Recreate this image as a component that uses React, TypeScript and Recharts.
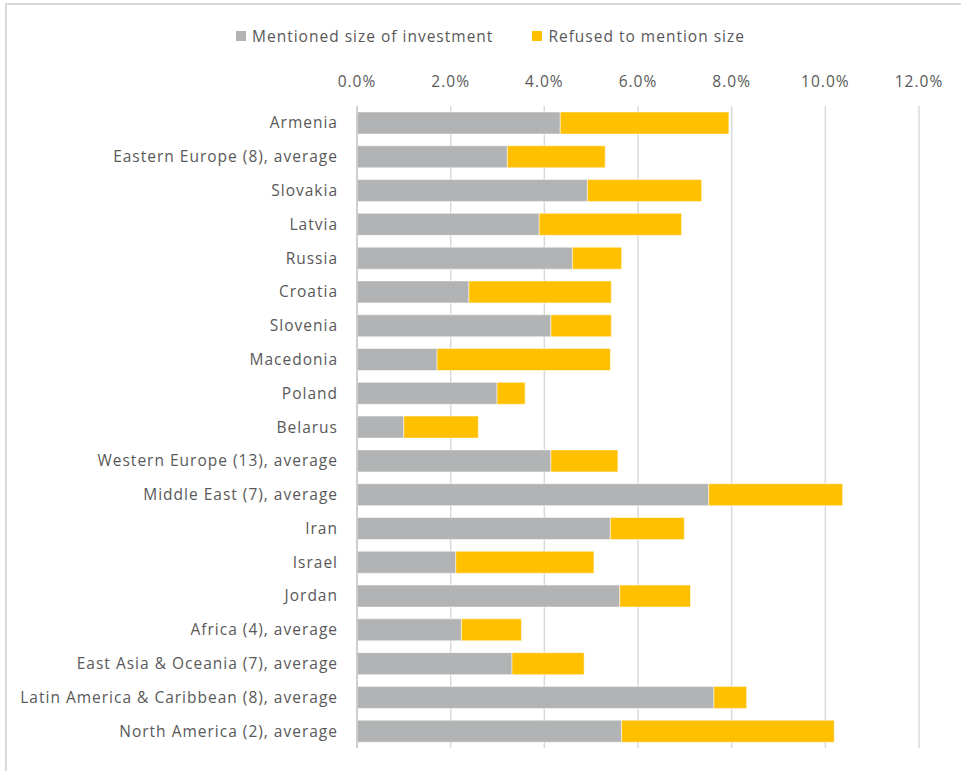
import { Bar, BarChart, CartesianGrid, Legend, XAxis, YAxis } from "recharts";

const categories = [
  "Armenia",
  "Eastern Europe (8), average",
  "Slovakia",
  "Latvia",
  "Russia",
  "Croatia",
  "Slovenia",
  "Macedonia",
  "Poland",
  "Belarus",
  "Western Europe (13), average",
  "Middle East (7), average",
  "Iran",
  "Israel",
  "Jordan",
  "Africa (4), average",
  "East Asia & Oceania (7), average",
  "Latin America & Caribbean (8), average",
  "North America (2), average",
];

// percent values
const mentioned = [4.34, 3.21, 4.92, 3.89, 4.6, 2.39, 4.14, 1.71, 2.99, 1.0, 4.14, 7.51, 5.41, 2.11, 5.61, 2.23, 3.31, 7.62, 5.65];
const refused = [3.6, 2.09, 2.44, 3.04, 1.05, 3.04, 1.29, 3.7, 0.6, 1.59, 1.43, 2.86, 1.58, 2.95, 1.51, 1.28, 1.54, 0.7, 4.54];

const xTicks = [0, 2, 4, 6, 8, 10, 12];

const seriesNames = ["Mentioned size of investment", "Refused to mention size"];
const seriesColors = ["#B2B3B4", "#FFC000"];

const data = categories.map((name, i) => ({
  name,
  mentioned: mentioned[i],
  refused: refused[i],
}));

const FONT = "'Open Sans', sans-serif";
const TEXT = "#595959";
const GRID = "#d9d9d9";

const renderLegend = () => (
  <div
    style={{
      display: "flex",
      justifyContent: "center",
      gap: 39,
      paddingLeft: 62,
      paddingTop: 2,
      height: 30,
      boxSizing: "border-box",
      alignItems: "center",
      fontFamily: FONT,
      fontSize: 15.5,
      letterSpacing: 1,
      color: TEXT,
    }}
  >
    {seriesNames.map((n, i) => (
      <div key={n} style={{ display: "flex", alignItems: "center" }}>
        <span
          style={{
            width: 10,
            height: 10,
            background: seriesColors[i],
            display: "inline-block",
            marginRight: 6,
          }}
        />
        <span>{n}</span>
      </div>
    ))}
  </div>
);

const tickStyle = { fill: TEXT, fontSize: 15.5, fontFamily: FONT, letterSpacing: 1 };

export default function App() {
  return (
    <div style={{ position: "absolute", left: 0, top: 0, width: 961, height: 771, background: "#fff" }}>
      <div
        style={{
          position: "absolute",
          left: 5,
          top: 3,
          width: 970,
          height: 780,
          borderTop: `2px solid ${GRID}`,
          borderLeft: `2px solid ${GRID}`,
        }}
      />
      <BarChart
        width={961}
        height={771}
        data={data}
        layout="vertical"
        margin={{ top: 20, right: 42, bottom: 23, left: 0 }}
        barSize={22}
        style={{ position: "absolute", left: 0, top: 0 }}
      >
        <Legend verticalAlign="top" content={renderLegend} wrapperStyle={{ height: 30 }} />
        <CartesianGrid horizontal={false} stroke={GRID} strokeWidth={1.5} />
        <XAxis
          type="number"
          orientation="top"
          domain={[0, 12]}
          ticks={xTicks}
          tickFormatter={(v: number) => v.toFixed(1) + "%"}
          axisLine={false}
          tickLine={false}
          tickSize={0}
          tickMargin={19}
          height={56}
          tick={tickStyle}
          interval={0}
        />
        <YAxis
          type="category"
          dataKey="name"
          width={357}
          axisLine={{ stroke: "#c8c8c8", strokeWidth: 1.5 }}
          tickLine={false}
          tickSize={0}
          tickMargin={19}
          interval={0}
          tick={tickStyle}
        />
        <Bar
          dataKey="mentioned"
          name={seriesNames[0]}
          stackId="a"
          fill={seriesColors[0]}
          stroke="#fff"
          strokeWidth={0.5}
          isAnimationActive={false}
        />
        <Bar
          dataKey="refused"
          name={seriesNames[1]}
          stackId="a"
          fill={seriesColors[1]}
          stroke="#fff"
          strokeWidth={0.5}
          isAnimationActive={false}
        />
      </BarChart>
    </div>
  );
}
